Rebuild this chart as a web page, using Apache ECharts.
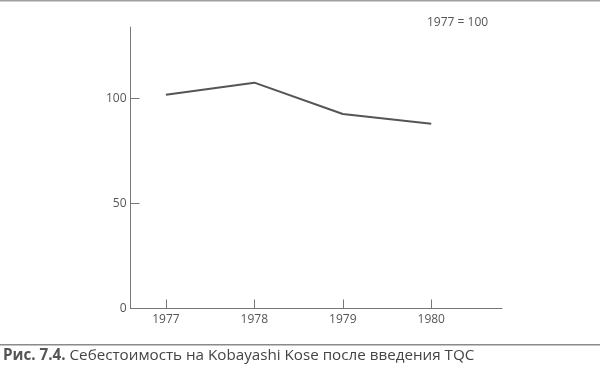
<!DOCTYPE html>
<html>
<head>
<meta charset="utf-8">
<script src="https://cdn.jsdelivr.net/npm/echarts@6/dist/echarts.min.js"></script>
<style>html,body{margin:0;padding:0;background:#fff}#c{width:600px;height:371px}</style>
</head>
<body>
<div id="c"></div>
<script>
const years = [1977, 1978, 1979, 1980];
const costIndex = [101.7, 107.5, 92.6, 87.9];
const yTicks = [0, 50, 100];
const baseNote = '1977 = 100';
const captionBold = 'Рис. 7.4.';
const captionText = ' Себестоимость на Kobayashi Kose после введения TQC';

const chart = echarts.init(document.getElementById('c'));
const font = '"Open Sans", "Noto Sans", sans-serif';
chart.setOption({
  animation: false,
  backgroundColor: '#fff',
  grid: { left: 130.5, right: 98, top: 27, bottom: 62.5 },
  xAxis: {
    type: 'value', min: 1976.6, max: 1980.8,
    axisLine: { show: true, lineStyle: { color: '#777', width: 1 } },
    axisTick: { show: true, inside: true, length: 9, customValues: years, lineStyle: { color: '#777' } },
    axisLabel: { customValues: years, margin: 5, color: '#555', fontSize: 12, fontFamily: font, formatter: v => String(v) },
    splitLine: { show: false }
  },
  yAxis: {
    type: 'value', min: 0, max: 134,
    axisLine: { show: true, lineStyle: { color: '#777', width: 1 } },
    axisTick: { show: true, inside: true, length: 9, customValues: yTicks, lineStyle: { color: '#777' } },
    axisLabel: { customValues: yTicks, margin: 4, color: '#555', fontSize: 12, fontFamily: font },
    splitLine: { show: false }
  },
  series: [{
    type: 'line',
    data: years.map((y, i) => [y, costIndex[i]]),
    symbol: 'none',
    lineStyle: { color: '#555', width: 2 }
  }],
  graphic: [
    { type: 'rect', shape: { x: 0, y: 0, width: 600, height: 1.5 }, style: { fill: '#a0a0a0' } },
    { type: 'rect', shape: { x: 0, y: 344, width: 600, height: 1.5 }, style: { fill: '#8a8a8a' } },
    { type: 'text', x: 427, y: 23, style: { text: baseNote, fill: '#555', font: '12px ' + font, verticalAlign: 'middle' } },
    { type: 'text', x: 3, y: 356, style: {
        text: '{b|' + captionBold + '}{n|' + captionText + '}',
        verticalAlign: 'middle',
        rich: {
          b: { fontWeight: 'bold', fill: '#555', fontSize: 15.2, fontFamily: font },
          n: { fill: '#444', fontSize: 15.2, fontFamily: font }
        }
    } }
  ]
});
</script>
</body>
</html>
